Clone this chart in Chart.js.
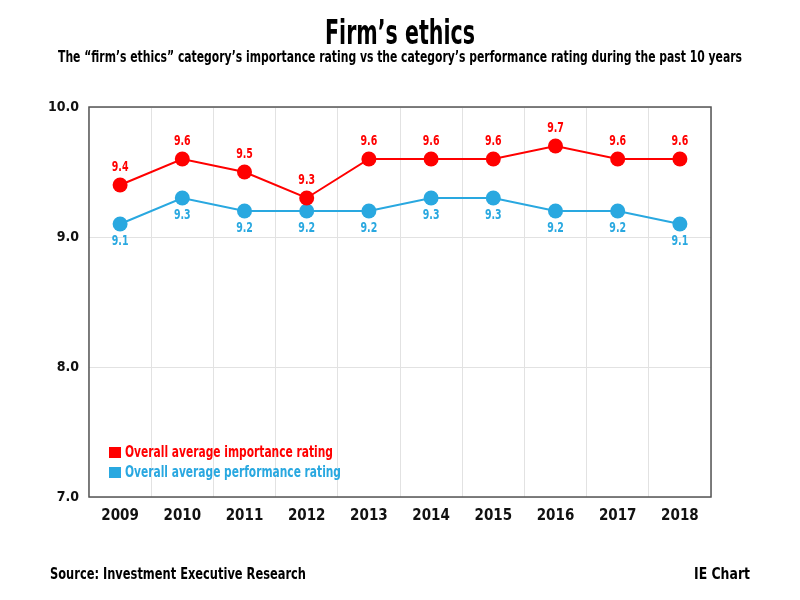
<!DOCTYPE html>
<html><head><meta charset="utf-8">
<script src="https://cdn.jsdelivr.net/npm/chart.js@4"></script>
<style>html,body{margin:0;padding:0;background:#fff}#c{display:block}</style>
</head><body>
<canvas id="c" width="800" height="600"></canvas>
<script>
const years = ['2009','2010','2011','2012','2013','2014','2015','2016','2017','2018'];
const importance = [9.4, 9.6, 9.5, 9.3, 9.6, 9.6, 9.6, 9.7, 9.6, 9.6];
const performance = [9.1, 9.3, 9.2, 9.2, 9.2, 9.3, 9.3, 9.2, 9.2, 9.1];
const yTicks = [7, 8, 9, 10];
const seriesNames = ['Overall average importance rating', 'Overall average performance rating'];
const RED = '#ff0000', BLUE = '#29a8e0';
const FONT = '"DejaVu Sans Condensed", "Liberation Sans Narrow", sans-serif';

// draw text horizontally condensed; if width given, fit to that width
function condText(ctx, text, x, y, align, sx, width) {
  const w = ctx.measureText(text).width;
  const s = width ? width / w : sx;
  const rw = w * s;
  let left = align === 'center' ? x - rw / 2 : align === 'right' ? x - rw : x;
  ctx.save();
  ctx.textAlign = 'left';
  ctx.translate(left, y);
  ctx.scale(s, 1);
  ctx.fillText(text, 0, 0);
  ctx.restore();
}

const extras = {
  id: 'extras',
  afterDraw(chart) {
    const ctx = chart.ctx, a = chart.chartArea;
    ctx.save();
    ctx.strokeStyle = '#555'; ctx.lineWidth = 1.5;
    ctx.strokeRect(a.left, a.top, a.right - a.left, a.bottom - a.top);
    ctx.fillStyle = '#000'; ctx.textBaseline = 'middle';
    ctx.font = 'bold 33px ' + FONT;
    condText(ctx, "Firm\u2019s ethics", 400, 35, 'center', 0, 150);
    ctx.font = 'bold 15px ' + FONT;
    condText(ctx, "The \u201cfirm\u2019s ethics\u201d category\u2019s importance rating vs the category\u2019s performance rating during the past 10 years", 400, 58, 'center', 0, 684);
    ctx.font = 'bold 15px ' + FONT;
    condText(ctx, 'Source: Investment Executive Research', 50, 575, 'left', 0, 256);
    condText(ctx, 'IE Chart', 750, 575, 'right', 0, 56);
    // data labels
    ctx.font = 'bold 14px ' + FONT;
    chart.data.datasets.forEach((ds, i) => {
      const meta = chart.getDatasetMeta(i);
      meta.data.forEach((pt, j) => {
        ctx.fillStyle = ds.borderColor;
        const y = i === 0 ? pt.y - 18 : pt.y + 17;
        condText(ctx, ds.data[j].toFixed(1), pt.x, y, 'center', 0.75);
      });
    });
    // legend
    ctx.font = 'bold 15px ' + FONT;
    [RED, BLUE].forEach((c, i) => {
      const y = 452 + i * 20;
      ctx.fillStyle = c;
      ctx.fillRect(109, y - 5, 12, 11);
      condText(ctx, seriesNames[i], 125, y + 1, 'left', 0, i === 0 ? 208 : 216);
    });
    ctx.restore();
  }
};

new Chart(document.getElementById('c'), {
  type: 'line',
  data: {
    labels: years,
    datasets: [
      { label: seriesNames[0], data: importance, borderColor: RED, backgroundColor: RED, borderWidth: 2, pointRadius: 7.5, pointHoverRadius: 7.5, pointBorderWidth: 0, tension: 0 },
      { label: seriesNames[1], data: performance, borderColor: BLUE, backgroundColor: BLUE, borderWidth: 2, pointRadius: 7.5, pointHoverRadius: 7.5, pointBorderWidth: 0, tension: 0 }
    ]
  },
  options: {
    responsive: false, animation: false, devicePixelRatio: 1,
    layout: { padding: { left: 0, top: 107, right: 89, bottom: 63 } },
    plugins: { legend: { display: false }, tooltip: { enabled: false }, title: { display: false } },
    scales: {
      x: {
        offset: true,
        grid: { offset: true, color: '#e2e2e2', drawTicks: false },
        border: { display: false },
        ticks: { color: '#111', font: { family: FONT, size: 15, weight: 'bold' }, padding: 10 },
        afterFit(s) { s.height = 40; }
      },
      y: {
        min: 7, max: 10,
        afterBuildTicks(s) { s.ticks = yTicks.map(v => ({ value: v })); },
        grid: { color: '#e2e2e2', drawTicks: false },
        border: { display: false },
        ticks: { color: '#111', font: { family: FONT, size: 14, weight: 'bold' }, padding: 10, callback: v => Number(v).toFixed(1) },
        afterFit(s) { s.width = 89; }
      }
    }
  },
  plugins: [extras]
});
</script>
</body></html>
